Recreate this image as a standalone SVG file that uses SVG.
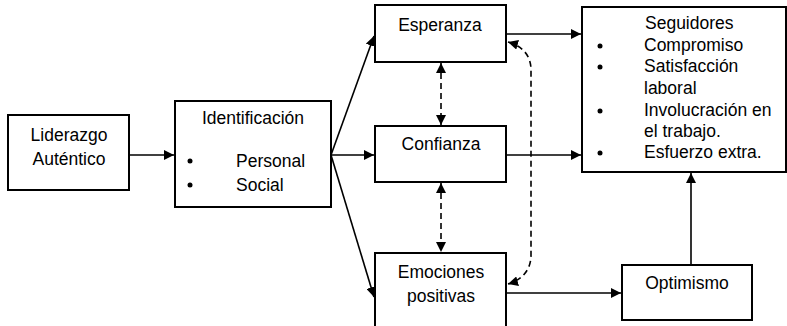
<svg xmlns="http://www.w3.org/2000/svg" width="787" height="326" viewBox="0 0 787 326">
<style>
.box{fill:#fff;stroke:#000;stroke-width:2}
.t{font-family:"Liberation Sans",Arial,sans-serif;font-size:17.5px;fill:#000}
.c{text-anchor:middle}
.ln{fill:none;stroke:#000;stroke-width:1.6}
.dash{fill:none;stroke:#000;stroke-width:1.6;stroke-dasharray:6 4}
</style>
<defs>
<marker id="ah" viewBox="0 0 10 10" refX="10" refY="5" markerWidth="10" markerHeight="10" markerUnits="userSpaceOnUse" orient="auto-start-reverse">
<path d="M0,0 L10,5 L0,10 z" fill="#000"/>
</marker>
</defs>
<rect width="787" height="326" fill="#fff"/>
<g id="connectors">
<line class="ln" x1="129" y1="155" x2="174" y2="155" marker-end="url(#ah)"/>
<line class="ln" x1="331" y1="155" x2="374" y2="36" marker-end="url(#ah)"/>
<line class="ln" x1="331" y1="155" x2="374" y2="155" marker-end="url(#ah)"/>
<line class="ln" x1="331" y1="155" x2="374" y2="297" marker-end="url(#ah)"/>
<line class="ln" x1="506" y1="34" x2="581" y2="34" marker-end="url(#ah)"/>
<line class="ln" x1="506" y1="155" x2="581" y2="155" marker-end="url(#ah)"/>
<line class="ln" x1="506" y1="293" x2="621" y2="293" marker-end="url(#ah)"/>
<line class="ln" x1="691" y1="265" x2="691" y2="173" marker-end="url(#ah)"/>
<line class="dash" x1="441" y1="63" x2="441" y2="125" marker-start="url(#ah)" marker-end="url(#ah)"/>
<line class="dash" x1="441" y1="183" x2="441" y2="252" marker-start="url(#ah)" marker-end="url(#ah)"/>
<path class="dash" d="M508,42 C522,46 531,55 531,70 L531,255 C531,270 522,280 508,284" marker-start="url(#ah)" marker-end="url(#ah)"/>
</g>
<g id="liderazgo">
<rect class="box" x="8" y="115" width="121" height="75"/>
<text class="t c" x="69" y="141">Liderazgo</text>
<text class="t c" x="69" y="165">Auténtico</text>
</g>
<g id="identificacion">
<rect class="box" x="175" y="101" width="156" height="106"/>
<text class="t c" x="253" y="124">Identificación</text>
<circle cx="190" cy="161" r="2.5"/>
<text class="t" x="236" y="167">Personal</text>
<circle cx="190" cy="185" r="2.5"/>
<text class="t" x="236" y="191">Social</text>
</g>
<g id="esperanza">
<rect class="box" x="375" y="5" width="131" height="57"/>
<text class="t c" x="440" y="31">Esperanza</text>
</g>
<g id="confianza">
<rect class="box" x="375" y="126" width="131" height="56"/>
<text class="t c" x="441" y="150">Confianza</text>
</g>
<g id="emociones">
<rect class="box" x="375" y="253" width="131" height="80"/>
<text class="t c" x="441" y="278">Emociones</text>
<text class="t c" x="441" y="302">positivas</text>
</g>
<g id="seguidores">
<rect class="box" x="582" y="7" width="204" height="165"/>
<text class="t" x="645" y="29">Seguidores</text>
<circle cx="600" cy="46" r="2.5"/>
<text class="t" x="644" y="51">Compromiso</text>
<circle cx="600" cy="67" r="2.5"/>
<text class="t" x="644" y="72">Satisfacción</text>
<text class="t" x="644" y="94">laboral</text>
<circle cx="600" cy="111" r="2.5"/>
<text class="t" x="644" y="116">Involucración en</text>
<text class="t" x="644" y="137">el trabajo.</text>
<circle cx="600" cy="153" r="2.5"/>
<text class="t" x="644" y="158">Esfuerzo extra.</text>
</g>
<g id="optimismo">
<rect class="box" x="622" y="265" width="130" height="55"/>
<text class="t c" x="687" y="289">Optimismo</text>
</g>
</svg>
